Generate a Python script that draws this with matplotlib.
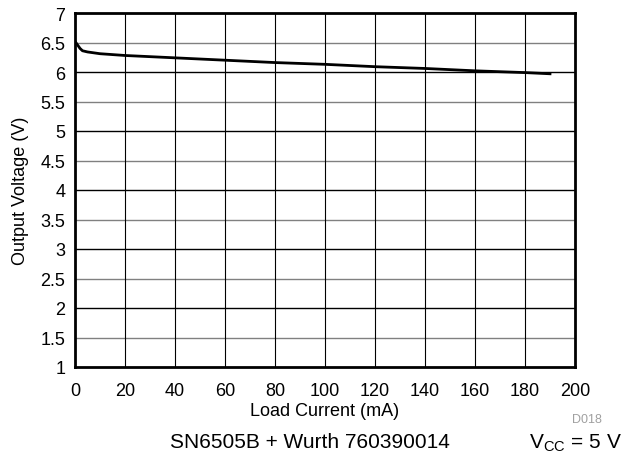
import matplotlib.pyplot as plt

# load current (mA) vs output voltage (V)
current = [0, 1, 2, 3, 5, 10, 20, 40, 60, 80, 100, 120, 140, 160, 180, 190]
voltage = [6.52, 6.46, 6.40, 6.36, 6.34, 6.31, 6.28, 6.24, 6.20, 6.16, 6.13, 6.09, 6.06, 6.02, 5.99, 5.97]

xticks = list(range(0, 201, 20))
yticks = [1, 1.5, 2, 2.5, 3, 3.5, 4, 4.5, 5, 5.5, 6, 6.5, 7]
ytick_labels = ["1", "1.5", "2", "2.5", "3", "3.5", "4", "4.5", "5", "5.5", "6", "6.5", "7"]

plt.rcParams['font.family'] = ['Liberation Sans', 'DejaVu Sans']

fig = plt.figure(figsize=(6.24, 4.56), dpi=100)
ax = fig.add_axes([75 / 624, 1 - 368 / 456, 500 / 624, 354 / 456])

# grid: integer volts black, half volts gray
for y in yticks[1:-1]:
    col = 'black' if float(y).is_integer() else '#808080'
    ax.axhline(y, color=col, lw=1.0, zorder=1)
for x in xticks[1:-1]:
    ax.axvline(x, color='black', lw=0.8, zorder=1)

ax.plot(current, voltage, color='black', lw=2, zorder=3)

ax.set_xlim(0, 200)
ax.set_ylim(1, 7)
ax.set_xticks(xticks)
ax.set_yticks(yticks, ytick_labels)
ax.tick_params(length=0, labelsize=13)
ax.tick_params(axis='x', pad=11)
ax.tick_params(axis='y', pad=7)
for s in ax.spines.values():
    s.set_linewidth(2)

ax.set_xlabel("Load Current (mA)", fontsize=13, labelpad=2)
ax.set_ylabel("Output Voltage (V)", fontsize=13, labelpad=8)

fig.text(310 / 624, 1 - 443 / 456, "SN6505B + Wurth 760390014", fontsize=15, ha='center', va='center')
fig.text(622 / 624, 1 - 443 / 456, r"V$_{\mathregular{CC}}$ = 5 V", fontsize=15, ha='right', va='center')
fig.text(602 / 624, 1 - 420 / 456, "D018", fontsize=9, color='#a0a0a0', ha='right', va='center')

fig.savefig("out.png", dpi=100)
